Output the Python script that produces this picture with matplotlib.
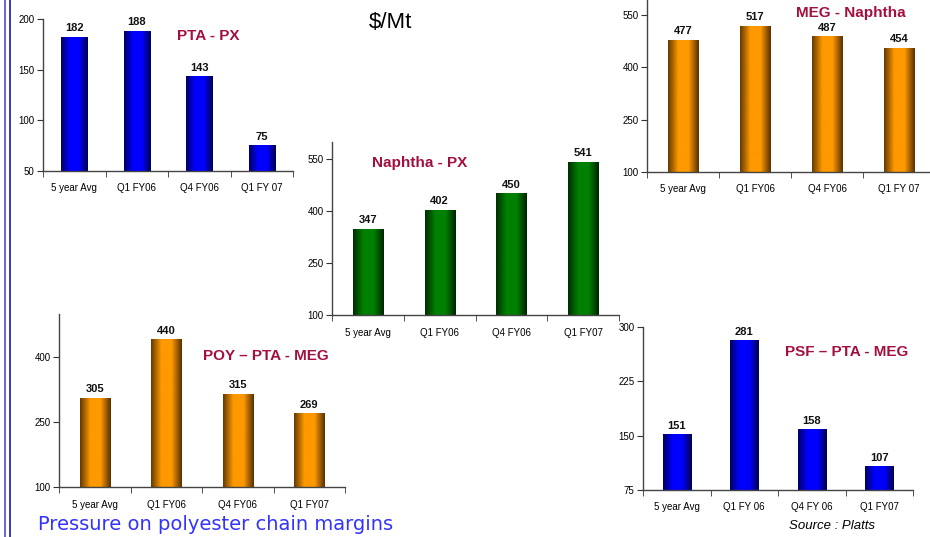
import numpy as np
import matplotlib
matplotlib.use("Agg")
import matplotlib.pyplot as plt
from matplotlib.colors import LinearSegmentedColormap
from matplotlib.lines import Line2D

plt.rcParams['font.family'] = ['Liberation Sans', 'DejaVu Sans']

# data
pta_px_cats = ['5 year Avg', 'Q1 FY06', 'Q4 FY06', 'Q1 FY 07']
pta_px_vals = [182, 188, 143, 75]

nap_px_cats = ['5 year Avg', 'Q1 FY06', 'Q4 FY06', 'Q1 FY07']
nap_px_vals = [347, 402, 450, 541]

meg_nap_cats = ['5 year Avg', 'Q1 FY06', 'Q4 FY06', 'Q1 FY 07']
meg_nap_vals = [477, 517, 487, 454]

poy_cats = ['5 year Avg', 'Q1 FY06', 'Q4 FY06', 'Q1 FY07']
poy_vals = [305, 440, 315, 269]

psf_cats = ['5 year Avg', 'Q1 FY 06', 'Q4 FY 06', 'Q1 FY07']
psf_vals = [151, 281, 158, 107]

W, H = 930, 537
TITLE_COL = '#a3103f'

blue = LinearSegmentedColormap.from_list('b', ['#000064', '#0000ff', '#0000ff', '#000050'])
green = LinearSegmentedColormap.from_list('g', ['#002e00', '#008000', '#008000', '#002600'])
orange = LinearSegmentedColormap.from_list('o', ['#663b00', '#ff9900', '#ff9900', '#583200'])
grad = np.linspace(0, 1, 64).reshape(1, -1)


def px_axes(fig, left, right, top, bottom):
    return fig.add_axes([left / W, 1 - bottom / H, (right - left) / W, (bottom - top) / H])


def panel(fig, box, cats, vals, ylim, yticks, cmap, title, tpos):
    ax = px_axes(fig, *box)
    x = np.arange(len(cats))
    bars = ax.bar(x, vals, width=0.42, color='none', edgecolor='none')
    for b in bars:
        ax.imshow(grad, extent=[b.get_x(), b.get_x() + b.get_width(), 0, b.get_height()],
                  aspect='auto', cmap=cmap, zorder=2, interpolation='bilinear')
    for xi, v in zip(x, vals):
        ax.text(xi, v + (ylim[1] - ylim[0]) * 0.025, str(v), ha='center', va='bottom',
                fontsize=8, fontweight='bold', color='#111111')
    ax.set_xlim(-0.5, len(cats) - 0.5)
    ax.set_ylim(*ylim)
    ax.set_yticks(yticks)
    ax.set_xticks(x)
    ax.set_xticklabels(cats)
    ax.set_xticks(np.arange(len(cats) + 1) - 0.5, minor=True)
    ax.tick_params(axis='x', which='major', length=0, pad=9, labelsize=7)
    ax.tick_params(axis='x', which='minor', length=4, direction='out', color='#333333')
    ax.tick_params(axis='y', length=4, direction='out', labelsize=7, pad=2, color='#333333')
    for s in ['top', 'right']:
        ax.spines[s].set_visible(False)
    for s in ['left', 'bottom']:
        ax.spines[s].set_color('#444444')
        ax.spines[s].set_linewidth(1.0)
    ax.patch.set_alpha(0)
    fig.text(tpos[0] / W, 1 - tpos[1] / H, title, ha='center', va='center',
             fontsize=11, fontweight='bold', color=TITLE_COL)
    return ax


fig = plt.figure(figsize=(9.3, 5.37), dpi=100)

panel(fig, (43, 293, 19, 171), pta_px_cats, pta_px_vals, (50, 200), [50, 100, 150, 200],
      blue, 'PTA - PX', (208, 36))
panel(fig, (332, 619, 142, 315), nap_px_cats, nap_px_vals, (100, 600), [100, 250, 400, 550],
      green, 'Naphtha - PX', (420, 163))
panel(fig, (647, 935, -2.5, 172), meg_nap_cats, meg_nap_vals, (100, 600), [100, 250, 400, 550],
      orange, 'MEG - Naphtha', (851, 13))
panel(fig, (59, 345, 314, 487), poy_cats, poy_vals, (100, 500), [100, 250, 400],
      orange, 'POY \u2013 PTA - MEG', (266, 356))
panel(fig, (643, 913, 327, 490), psf_cats, psf_vals, (75, 300), [75, 150, 225, 300],
      blue, 'PSF \u2013 PTA - MEG', (847, 352))

fig.text(390 / W, 1 - 22 / H, '$/Mt', ha='center', va='center', fontsize=16, color='black')
fig.text(38 / W, 1 - 525 / H, 'Pressure on polyester chain margins', ha='left', va='center',
         fontsize=14, color='#3333ff', family=['DejaVu Sans'])
fig.text(832 / W, 1 - 526 / H, 'Source : Platts', ha='center', va='center',
         fontsize=9.5, style='italic', color='black')

# double rule on the left edge
fig.add_artist(Line2D([4.8 / W, 4.8 / W], [0, 1], color='#5a5ad2', lw=1.3, transform=fig.transFigure))
fig.add_artist(Line2D([9.8 / W, 9.8 / W], [0, 1], color='#2b2bb0', lw=1.3, transform=fig.transFigure))

fig.savefig('out.png', dpi=100)
